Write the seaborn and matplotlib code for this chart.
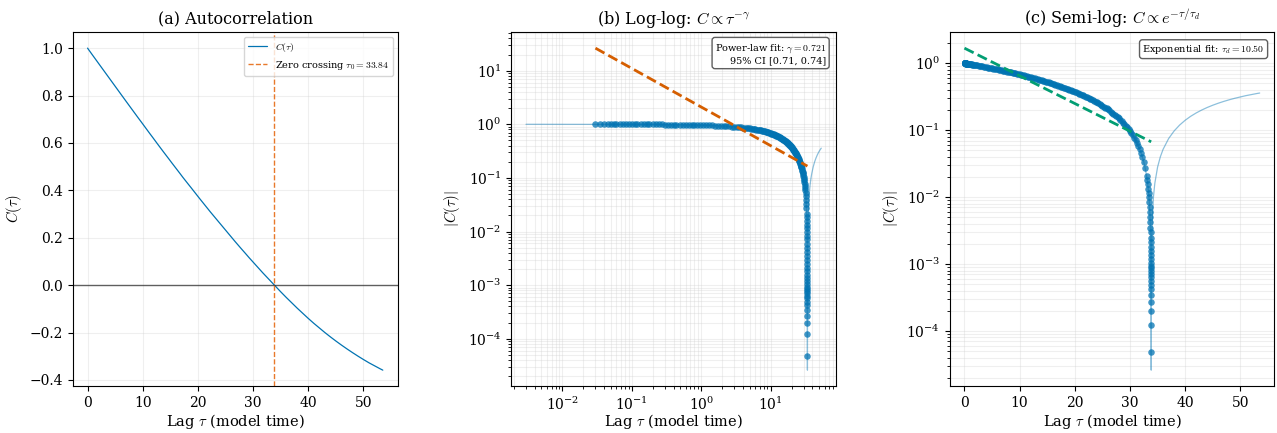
import matplotlib
matplotlib.use("Agg")
import numpy as np
import pandas as pd
import matplotlib.pyplot as plt
import seaborn as sns

# Lag (model time) and measured autocorrelation C(tau)
lag = [
    0.0, 0.003, 0.03, 0.035, 0.04, 0.045, 0.05, 0.055, 0.06, 0.067, 0.075, 0.083,
    0.092, 0.10, 0.11, 0.12, 0.135, 0.15, 0.165, 0.18, 0.20, 0.22, 0.245, 0.27,
    0.30, 0.33, 0.365, 0.40, 0.44, 0.49, 0.54, 0.60, 0.66, 0.73, 0.80, 0.88,
    0.97, 1.07, 1.18, 1.30, 1.43, 1.58, 1.74, 1.91, 2.10, 2.31, 2.55, 2.80,
    3.0, 3.25, 3.5, 3.75, 4.0, 4.25, 4.5, 4.75, 5.0, 5.25, 5.5, 5.75,
    6.0, 6.25, 6.5, 6.75, 7.0, 7.25, 7.5, 7.75, 8.0, 8.25, 8.5, 8.75,
    9.0, 9.25, 9.5, 9.75, 10.0, 10.25, 10.5, 10.75, 11.0, 11.25, 11.5, 11.75,
    12.0, 12.25, 12.5, 12.75, 13.0, 13.25, 13.5, 13.75, 14.0, 14.25, 14.5, 14.75,
    15.0, 15.25, 15.5, 15.75, 16.0, 16.25, 16.5, 16.75, 17.0, 17.25, 17.5, 17.75,
    18.0, 18.25, 18.5, 18.75, 19.0, 19.25, 19.5, 19.75, 20.0, 20.25, 20.5, 20.75,
    21.0, 21.25, 21.5, 21.75, 22.0, 22.25, 22.5, 22.75, 23.0, 23.25, 23.5, 23.75,
    24.0, 24.25, 24.5, 24.75, 25.0, 25.25, 25.5, 25.75, 26.0, 26.25, 26.5, 26.75,
    27.0, 27.25, 27.5, 27.75, 28.0, 28.25, 28.5, 28.75, 29.0, 29.25, 29.5, 29.75,
    30.0, 30.25, 30.5, 30.75, 31.0, 31.25, 31.5, 31.75, 32.0, 32.25, 32.5, 32.75,
    33.0, 33.1, 33.2, 33.3, 33.38, 33.44, 33.5, 33.55, 33.6, 33.64, 33.67, 33.70,
    33.72, 33.74, 33.755, 33.767, 33.777, 33.785, 33.792, 33.798, 33.802, 33.805,
    33.808, 33.811, 33.814, 33.817, 33.820, 33.823, 33.826, 33.829, 33.832,
    33.835, 33.838, 33.841, 33.85, 33.87, 33.9, 34.0, 34.25, 34.5, 35.0, 35.5,
    36.0, 37.0, 38.0, 39.0, 40.0, 41.0, 42.0, 43.0, 44.0, 45.0, 46.0, 47.0,
    48.0, 49.0, 50.0, 51.0, 52.0, 53.0, 53.5,
]
corr = [
    1.0, 0.9999, 0.9990, 0.9989, 0.9987, 0.9985, 0.9984, 0.9982, 0.9981, 0.9978,
    0.9976, 0.9973, 0.9970, 0.9968, 0.9964, 0.9961, 0.9956, 0.9951, 0.9946,
    0.9942, 0.9935, 0.9929, 0.9920, 0.9912, 0.9903, 0.9893, 0.9881, 0.9870,
    0.9857, 0.9841, 0.9825, 0.9805, 0.9786, 0.9763, 0.9740, 0.9714, 0.9685,
    0.9652, 0.9617, 0.9578, 0.9536, 0.9487, 0.9436, 0.9381, 0.9320, 0.9252,
    0.9175, 0.9094,
    0.9030, 0.895, 0.887, 0.879, 0.871, 0.863, 0.855, 0.847, 0.839, 0.831, 0.823, 0.815,
    0.807, 0.799, 0.791, 0.783, 0.775, 0.767, 0.759, 0.751, 0.743, 0.735, 0.727, 0.719,
    0.711, 0.7035, 0.696, 0.688, 0.680, 0.672, 0.664, 0.656, 0.648, 0.6405, 0.633, 0.625,
    0.617, 0.609, 0.601, 0.5935, 0.586, 0.578, 0.570, 0.5625, 0.555, 0.5475, 0.540, 0.532,
    0.524, 0.5165, 0.509, 0.5015, 0.494, 0.4865, 0.479, 0.471, 0.463, 0.4555, 0.448, 0.4405,
    0.433, 0.426, 0.419, 0.4115, 0.404, 0.3965, 0.389, 0.3815, 0.374, 0.367, 0.360, 0.3525,
    0.345, 0.338, 0.331, 0.3235, 0.316, 0.309, 0.302, 0.295, 0.288, 0.281, 0.274, 0.267,
    0.260, 0.253, 0.246, 0.239, 0.232, 0.225, 0.218, 0.211, 0.204, 0.197, 0.190, 0.1835,
    0.177, 0.170, 0.163, 0.1565, 0.150, 0.1435, 0.137, 0.130, 0.123, 0.1165, 0.110, 0.1035,
    0.097, 0.0905, 0.084, 0.0776, 0.0712, 0.0647, 0.0583, 0.0520, 0.0458, 0.0395, 0.0333, 0.0270,
    0.0208, 0.0183, 0.0158, 0.0134, 0.0114, 0.0099, 0.0084, 0.0072, 0.0059, 0.0050, 0.0042, 0.00346,
    0.00297, 0.00247, 0.00210, 0.00180, 0.00156, 0.00136, 0.00119, 0.00104, 0.00094, 0.00086,
    0.000788, 0.000714, 0.000640, 0.000566, 0.000492, 0.000418, 0.000344, 0.000270, 0.000196,
    0.000122, 0.000048, -0.000026, -0.00025, -0.00074, -0.0015, -0.0040,
    -0.0101, -0.0161, -0.0281, -0.0400, -0.0518, -0.0749, -0.0974, -0.1193,
    -0.1406, -0.1612, -0.1809, -0.2000, -0.2183, -0.2359, -0.2528, -0.2690,
    -0.2846, -0.2996, -0.3140, -0.3278, -0.3405, -0.3528, -0.3587,
]

tau_zero = 33.84          # first zero crossing
fit_start = 0.03          # first lag used in the fits
gamma = 0.721             # power-law exponent
gamma_ci = (0.71, 0.74)
power_amp = 2.1
tau_d = 10.50             # exponential decay time
exp_amp = 1.68

BLUE = "#0173B2"
ORANGE = "#E8792B"
VERMILLION = "#D55E00"
GREEN = "#029E73"

sns.set_theme(style="ticks")
plt.rcParams.update({
    "font.family": ["DejaVu Serif"],
    "mathtext.fontset": "cm",
    "axes.edgecolor": "black",
    "axes.linewidth": 0.8,
    "xtick.color": "black",
    "ytick.color": "black",
    "axes.labelcolor": "black",
    "text.color": "black",
    "xtick.labelsize": 10,
    "ytick.labelsize": 10,
    "axes.labelsize": 10.5,
    "axes.titlesize": 11.5,
    "xtick.major.size": 3.5,
    "ytick.major.size": 3.5,
    "xtick.minor.size": 2.0,
    "ytick.minor.size": 2.0,
    "xtick.major.width": 0.8,
    "ytick.major.width": 0.8,
    "xtick.minor.width": 0.6,
    "ytick.minor.width": 0.6,
    "xtick.major.pad": 3.5,
    "ytick.major.pad": 3.5,
    "xtick.minor.pad": 3.4,
    "ytick.minor.pad": 3.4,
    "axes.labelpad": 4.0,
    "axes.titlepad": 6.0,
    "grid.linewidth": 0.8,
})

df = pd.DataFrame({"lag": lag, "C": corr})
df["absC"] = df["C"].abs()
positive = df[(df["lag"] >= fit_start) & (df["C"] > 0)]
nonzero_lag = df[df["lag"] > 0]

fig, axes = plt.subplots(1, 3, figsize=(12.77, 4.33), dpi=100)
fig.subplots_adjust(left=0.057, right=0.998, bottom=0.108, top=0.926, wspace=0.35)

# (a) raw autocorrelation
ax = axes[0]
sns.lineplot(data=df, x="lag", y="C", ax=ax, color=BLUE, lw=0.9,
             label=r"$C(\tau)$", sort=False, estimator=None)
ax.axhline(0, color="black", lw=1.0, alpha=0.6)
ax.axvline(tau_zero, color=ORANGE, ls="--", lw=1.0,
           label=rf"Zero crossing $\tau_0 = {tau_zero:.2f}$")
ax.grid(True, alpha=0.3)
ax.set_ylabel(r"$C(\tau)$")
ax.set_title("(a) Autocorrelation")
ax.legend(loc="upper right", fontsize=7, framealpha=0.8)

# (b) log-log with power-law fit
ax = axes[1]
ax.set_xscale("log")
ax.set_yscale("log")
sns.lineplot(data=nonzero_lag, x="lag", y="absC", ax=ax, color=BLUE, lw=0.9,
             alpha=0.45, sort=False, estimator=None)
sns.scatterplot(data=positive, x="lag", y="absC", ax=ax, color=BLUE, s=22,
                alpha=0.75, linewidth=0)
t_pow = np.geomspace(fit_start, tau_zero, 50)
ax.plot(t_pow, power_amp * t_pow ** (-gamma), color=VERMILLION, ls="--", lw=2)
ax.grid(True, which="both", alpha=0.3)
ax.set_ylabel(r"$|C(\tau)|$")
ax.set_title(r"(b) Log-log: $C \propto \tau^{-\gamma}$")
ax.text(0.97, 0.97,
        f"Power-law fit: $\\gamma = {gamma:.3f}$\n95% CI [{gamma_ci[0]:.2f}, {gamma_ci[1]:.2f}]",
        transform=ax.transAxes, ha="right", va="top", fontsize=7, multialignment="right",
        bbox=dict(boxstyle="round,pad=0.3", fc="white", ec="0.3", alpha=0.9))

# (c) semi-log with exponential fit
ax = axes[2]
ax.set_yscale("log")
sns.lineplot(data=df, x="lag", y="absC", ax=ax, color=BLUE, lw=0.9,
             alpha=0.45, sort=False, estimator=None)
sns.scatterplot(data=positive, x="lag", y="absC", ax=ax, color=BLUE, s=22,
                alpha=0.75, linewidth=0)
t_exp = np.linspace(0, positive["lag"].max(), 50)
ax.plot(t_exp, exp_amp * np.exp(-t_exp / tau_d), color=GREEN, ls="--", lw=2)
ax.grid(True, which="both", alpha=0.3)
ax.set_ylabel(r"$|C(\tau)|$")
ax.set_title(r"(c) Semi-log: $C \propto e^{-\tau/\tau_d}$")
ax.text(0.97, 0.97, f"Exponential fit: $\\tau_d = {tau_d:.2f}$",
        transform=ax.transAxes, ha="right", va="top", fontsize=7,
        bbox=dict(boxstyle="round,pad=0.3", fc="white", ec="0.3", alpha=0.9))

# shared x label, placed at the same height on every panel
for ax in axes:
    ax.set_xlabel(r"Lag $\tau$ (model time)")
    ax.xaxis.set_label_coords(0.5, -0.074)

fig.savefig("out.png", dpi=100)
